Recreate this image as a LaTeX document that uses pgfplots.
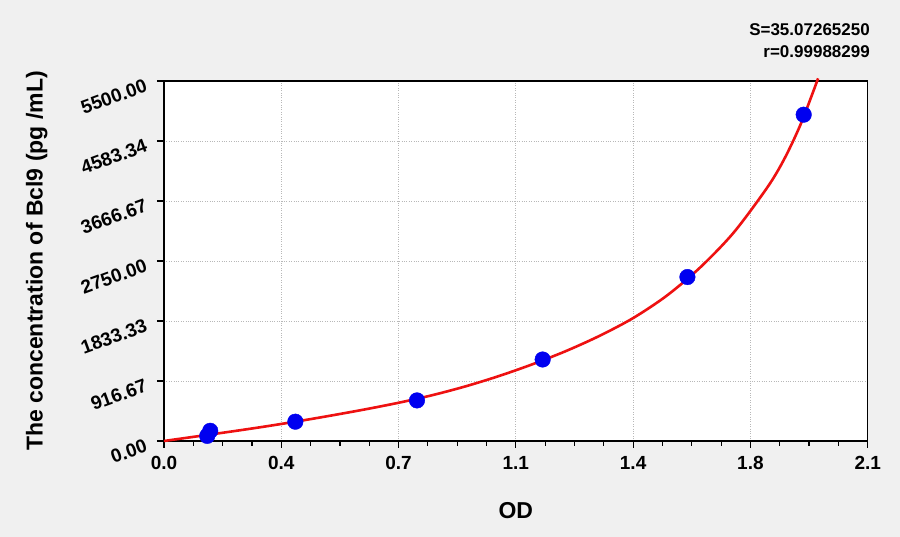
\documentclass[border=0pt]{standalone}
\usepackage{fontspec}
\setmainfont{Liberation Sans}
\usepackage{pgfplots}
\pgfplotsset{compat=1.18}
\definecolor{bggray}{HTML}{F0F0F0}
\definecolor{ptblue}{HTML}{0000F0}
\definecolor{fitred}{HTML}{EE1111}

\begin{document}
\begin{tikzpicture}
\fill[bggray] (0,0) rectangle (900pt,537pt);
\begin{axis}[at={(164pt,96pt)}, anchor=south west, scale only axis,
             width=703.7pt, height=360pt, clip=false,
             axis background/.style={fill=white},
             axis line style={line width=1.5pt},
             xmin=0, xmax=2.1, ymin=0, ymax=5500,
             xtick={0,0.35,0.7,1.05,1.4,1.75,2.1},
             xticklabels={0.0,0.4,0.7,1.1,1.4,1.8,2.1},
             ytick={0,916.67,1833.33,2750,3666.67,4583.34,5500},
             yticklabels={0.00,916.67,1833.33,2750.00,3666.67,4583.34,5500.00},
             minor tick num=3, tick align=outside,
             xtick pos=bottom, ytick pos=left,
             major tick length=7pt, minor tick length=5pt,
             tick style={black, line width=1.2pt},
             grid=major, major grid style={dotted, black!28, line width=0.8pt},
             ticklabel style={font=\bfseries\fontsize{19}{19}\selectfont},
             yticklabel style={rotate=20, anchor=east, xshift=-8pt},
             xticklabel style={yshift=-5pt},
             xlabel={OD}, ylabel={The concentration of Bcl9 (pg /mL)},
             label style={font=\bfseries\fontsize{23}{23}\selectfont},
             xlabel style={at={(axis description cs:0.5,-0.192)}, anchor=center},
             ylabel style={at={(axis description cs:-0.181,0.5)}, anchor=center, rotate=0}]
% standards
\addplot[only marks, mark=*, mark size=7.8pt, color=ptblue] coordinates {
  (0.129,78) (0.138,156) (0.392,295) (0.755,620) (1.130,1245) (1.562,2505) (1.909,4985)};
% fitted curve
\addplot[smooth, color=fitred, line width=2.6pt] coordinates {
  (0,0) (0.05,36) (0.1,72) (0.2,144) (0.3,220) (0.4,302) (0.5,390) (0.6,483)
  (0.7,584) (0.8,699) (0.9,835) (1.0,993) (1.1,1173) (1.2,1375) (1.3,1607)
  (1.4,1878) (1.5,2219) (1.6,2651) (1.7,3184) (1.8,3871) (1.85,4298)
  (1.9,4840) (1.952,5540)};
\end{axis}
\node[anchor=east, inner sep=0pt, font=\bfseries\fontsize{17}{17}\selectfont] at (870pt,507.5pt) {S=35.07265250};
\node[anchor=east, inner sep=0pt, font=\bfseries\fontsize{17}{17}\selectfont] at (870pt,485pt) {r=0.99988299};
\end{tikzpicture}
\end{document}
